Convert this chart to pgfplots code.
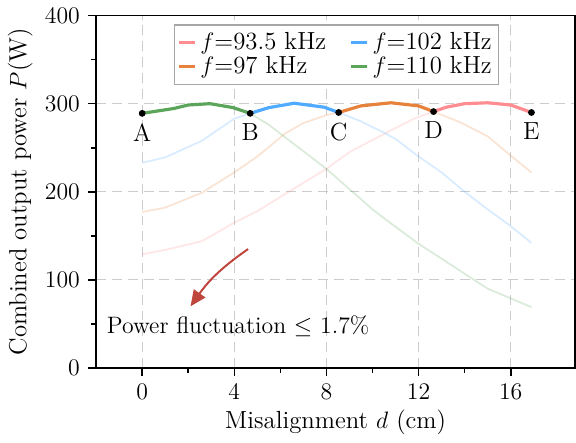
\documentclass[border=0pt]{standalone}
\usepackage{pgfplots}
\pgfplotsset{compat=1.18}
\usetikzlibrary{arrows.meta}
\definecolor{cpink}{RGB}{255,140,145}
\definecolor{corange}{RGB}{230,130,60}
\definecolor{cblue}{RGB}{80,170,255}
\definecolor{cgreen}{RGB}{90,165,90}
\definecolor{carrow}{RGB}{190,70,60}
\begin{document}
\fontsize{12}{14}\selectfont
\begin{tikzpicture}
\begin{axis}[
  scale only axis,
  width=242pt, height=178pt,
  xmin=-2, xmax=18.8, ymin=0, ymax=400,
  xtick={0,4,8,12,16}, ytick={0,100,200,300,400},
  minor x tick num=1, minor y tick num=1,
  tick align=outside,
  major tick length=4pt, minor tick length=2.5pt,
  xtick pos=bottom, ytick pos=left,
  grid=major,
  major grid style={gray!40, dash pattern=on 5pt off 3pt, line width=0.6pt},
  axis line style={line width=0.8pt},
  every tick/.style={black, line width=0.8pt},
  tick label style={font=\fontsize{12}{14}\selectfont},
  label style={font=\fontsize{12.5}{14}\selectfont},
  xlabel={Misalignment $d$ (cm)},
  ylabel={Combined output power $P$(W)},
  xlabel style={yshift=3pt},
  ylabel style={yshift=-2pt},
  legend columns=2,
  legend cell align=left,
  legend style={at={(0.163,0.975)}, anchor=north west, draw=gray!70, line width=0.6pt,
    font=\fontsize{12.5}{13}\selectfont, inner sep=1.5pt, row sep=-2pt,
    /tikz/every even column/.append style={column sep=10pt}},
  legend image code/.code={\draw[#1, line width=1.5pt] (0cm,0cm) -- (0.28cm,0cm);},
]
% faded full curves
\addplot[cpink, line width=0.9pt, opacity=0.22, forget plot] coordinates {(0,129)(1,134)(2.6,144)(4,165)(5,178)(6.3,199)(8,226)(9,245)(10.6,267)(11.8,283)(12.65,291)(13.2,296)(14,300)(15,301)(16,298.5)(16.9,290)};
\addplot[corange, line width=0.9pt, opacity=0.22, forget plot] coordinates {(0,177)(1,182)(2.6,199)(4,222)(5,240)(6.2,266)(7,278)(8,287)(8.53,290)(9.5,297.5)(10.8,301)(12,297.5)(12.65,291)(13.8,279)(15,263)(16,241)(16.9,222)};
\addplot[cblue, line width=0.9pt, opacity=0.22, forget plot] coordinates {(0,233)(1,239)(2.6,258)(4,283)(4.69,289)(5.5,295.5)(6.6,300.5)(7.9,296)(8.53,290)(9.5,280)(10.5,267)(11,260)(12,240)(13,222)(14,200)(15,180)(16,161)(16.9,142)};
\addplot[cgreen, line width=0.9pt, opacity=0.22, forget plot] coordinates {(0,289)(1.37,294.5)(2,298.5)(2.95,300)(3.95,295.5)(4.69,289)(5.5,276)(6.2,262)(7,246)(8,226)(9,203)(10,180)(10.7,166)(12,141)(13,124)(14,107)(15,90)(16,79)(16.9,69)};
% bold segments
\addplot[cpink, line width=1.6pt] coordinates {(12.65,291)(13.2,296)(14,300)(15,301)(16,298.5)(16.9,290)};
\addlegendentry{$f$=93.5 kHz}
\addplot[cblue, line width=1.6pt] coordinates {(4.69,289)(5.5,295.5)(6.6,300.5)(7.9,296)(8.53,290)};
\addlegendentry{$f$=102 kHz}
\addplot[corange, line width=1.6pt] coordinates {(8.53,290)(9.5,297.5)(10.8,301)(12,297.5)(12.65,291)};
\addlegendentry{$f$=97 kHz}
\addplot[cgreen, line width=1.6pt] coordinates {(0,289)(1.37,294.5)(2,298.5)(2.95,300)(3.95,295.5)(4.69,289)};
\addlegendentry{$f$=110 kHz}
% points
\addplot[only marks, mark=*, mark size=1.5pt, black, forget plot,
  nodes near coords, point meta=explicit symbolic,
  nodes near coords style={anchor=north, yshift=-1pt, font=\fontsize{12.5}{14}\selectfont}]
  coordinates {(0,289)[A] (4.69,289)[B] (8.53,290)[C] (12.65,291)[D] (16.9,290)[E]};
\draw[carrow, line width=1pt, -{Triangle[length=8pt,width=7pt]}] (axis cs:4.6,135) to[bend right=10] (axis cs:2.1,70);
\node[anchor=west, inner sep=0pt] at (axis cs:-1.55,47) {Power fluctuation $\leq$ 1.7\%};
\end{axis}
\end{tikzpicture}
\end{document}
